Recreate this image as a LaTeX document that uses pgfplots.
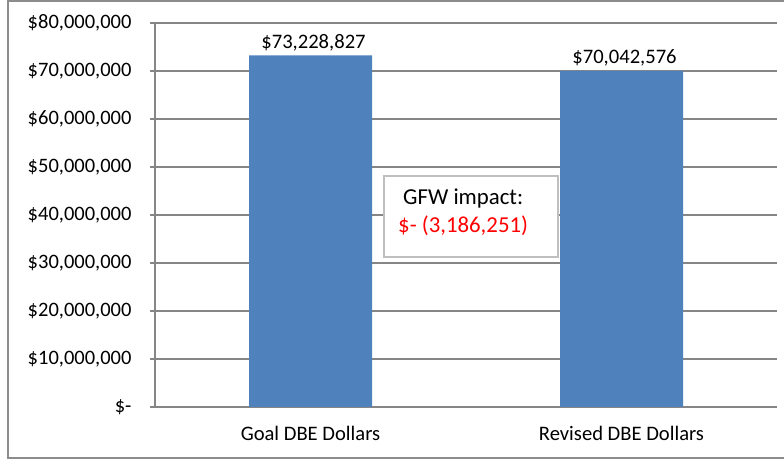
\documentclass[border=0pt]{standalone}
\usepackage{fontspec}
\setmainfont{Carlito}
\usepackage{pgfplots}
\pgfplotsset{compat=1.18}
\definecolor{barblue}{HTML}{4F81BD}
\definecolor{gridgray}{HTML}{868686}
\definecolor{framegray}{HTML}{8C8C8C}
\definecolor{boxgray}{HTML}{BFBFBF}

\begin{document}
\begin{tikzpicture}[x=1pt,y=1pt]
\useasboundingbox (0,0) rectangle (784,460);
% chart frame
\draw[framegray, line width=1.2pt] (8,2) rectangle (790,459);
\begin{axis}[
    at={(155pt,53pt)}, anchor=south west,
    scale only axis,
    width=622pt, height=384pt,
    xmin=-0.5, xmax=1.5,
    ymin=0, ymax=80000000,
    scaled y ticks=false,
    axis lines=left,
    axis line style={-, gridgray, line width=1.2pt},
    ytick={0,10000000,...,80000000},
    yticklabels={{\$-\hspace{10pt}},{\$10,000,000},{\$20,000,000},{\$30,000,000},{\$40,000,000},{\$50,000,000},{\$60,000,000},{\$70,000,000},{\$80,000,000}},
    yticklabel style={font=\fontsize{20.5}{24}\selectfont, anchor=east, xshift=-15pt},
    tick align=outside,
    major tick length=5pt,
    tick style={gridgray, line width=1.2pt},
    ymajorgrids=true,
    grid style={gridgray, line width=1.2pt},
    xtick={0,1},
    xticklabels={Goal DBE Dollars, Revised DBE Dollars},
    xticklabel style={font=\fontsize{20.6}{24}\selectfont, yshift=-11pt},
    x tick style={draw=none},
    extra x ticks={-0.5,0.5,1.5},
    extra x tick labels={},
    extra x tick style={grid=none, tick style={draw=gridgray, line width=1.2pt}},
    ybar, bar width=123pt,
    nodes near coords,
    point meta=explicit symbolic,
    every node near coord/.append style={font=\fontsize{20.6}{24}\selectfont, text=black, yshift=1pt, xshift=3pt},
    clip=false,
]
\addplot[fill=barblue, draw=none] coordinates {
  (0, 73228827) [\$73,228,827]
  (1, 70042576) [\$70,042,576]
};
\end{axis}
% GFW impact text box
\draw[boxgray, line width=1.2pt, fill=white] (384,203) rectangle (558,284);
\node[anchor=base west, font=\fontsize{22.8}{26}\selectfont, inner sep=0] at (403,255) {GFW impact:};
\node[anchor=base west, font=\fontsize{22.8}{26}\selectfont, inner sep=0, text=red] at (398,227) {\$- (3,186,251)};
\end{tikzpicture}
\end{document}
